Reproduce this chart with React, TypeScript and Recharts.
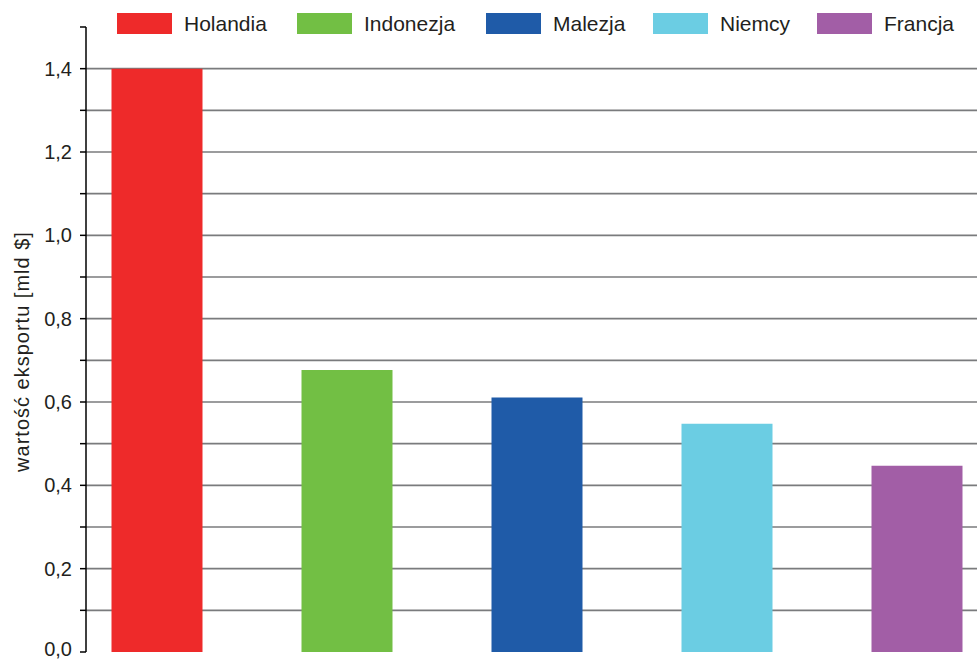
import React from 'react';
import { BarChart, Bar, XAxis, YAxis, CartesianGrid, Cell } from 'recharts';

const countries = ['Holandia', 'Indonezja', 'Malezja', 'Niemcy', 'Francja'];
const exportValues = [1.4, 0.677, 0.611, 0.548, 0.447];
const barColors = ['#ee2a2a', '#72bf44', '#1f5ba8', '#6bcde3', '#a25ea6'];
const yTicks = [0, 0.1, 0.2, 0.3, 0.4, 0.5, 0.6, 0.7, 0.8, 0.9, 1.0, 1.1, 1.2, 1.3, 1.4, 1.5];
const gridValues = [0.1, 0.2, 0.3, 0.4, 0.5, 0.6, 0.7, 0.8, 0.9, 1.0, 1.1, 1.2, 1.3, 1.4];
const labeledTicks = [0, 0.2, 0.4, 0.6, 0.8, 1.0, 1.2, 1.4];
// left edge of each legend swatch
const legendLeft = [117, 297, 486, 653, 817];

const data = countries.map((name, i) => ({ name, value: exportValues[i] }));

const FONT = '"Liberation Sans", Arial, sans-serif';

const formatTick = (v: number) =>
  labeledTicks.some(t => Math.abs(t - v) < 1e-6) ? v.toFixed(1).replace('.', ',') : '';

const YTick = (props: any) => {
  const { x, y, payload } = props;
  const txt = formatTick(payload.value);
  if (!txt) return null;
  // keep the bottom label inside the picture
  const shift = payload.value === 0 ? -3 : 0;
  return (
    <text
      x={x}
      y={y + shift}
      textAnchor="end"
      dominantBaseline="central"
      fontSize={20}
      fill="#231f20"
      fontFamily={FONT}
    >
      {txt}
    </text>
  );
};

const YLabel = (props: any) => {
  const vb = props.viewBox || {};
  const cx = 22;
  const cy = vb.y + vb.height / 2 + 12;
  return (
    <text
      x={cx}
      y={cy}
      transform={`rotate(-90, ${cx}, ${cy})`}
      textAnchor="middle"
      dominantBaseline="central"
      fontSize={20}
      letterSpacing={1}
      fill="#231f20"
      fontFamily={FONT}
    >
      wartość eksportu [mld $]
    </text>
  );
};

const LegendRow = () => (
  <div style={{ position: 'absolute', top: 13, left: 0, fontFamily: FONT, fontSize: 21, color: '#231f20', zIndex: 2 }}>
    {countries.map((c, i) => (
      <div
        key={c}
        style={{ position: 'absolute', left: legendLeft[i], top: 0, display: 'flex', alignItems: 'center', whiteSpace: 'nowrap' }}
      >
        <div style={{ width: 55, height: 21, background: barColors[i], marginRight: 12 }} />
        <span style={{ lineHeight: '21px' }}>{c}</span>
      </div>
    ))}
  </div>
);

export default function App() {
  return (
    <div style={{ position: 'relative', width: 977, height: 660, background: '#fff', overflow: 'hidden' }}>
      <style>{`body{margin:0;overflow:hidden;}`}</style>
      <LegendRow />
      <BarChart
        width={977}
        height={660}
        data={data}
        margin={{ top: 27, right: 0, bottom: 8, left: 0 }}
      >
        <CartesianGrid
          horizontal={true}
          vertical={false}
          horizontalValues={gridValues}
          stroke="#7a7b7d"
          strokeWidth={1.6}
        />
        <XAxis
          dataKey="name"
          type="category"
          height={0}
          tick={false}
          tickLine={false}
          padding={{ left: -24.5, right: -34.5 }}
          axisLine={{ stroke: '#000', strokeWidth: 2 }}
        />
        <YAxis
          type="number"
          domain={[0, 1.5]}
          ticks={yTicks}
          interval={0}
          width={86}
          tickSize={6}
          tickMargin={8}
          tick={<YTick />}
          tickLine={{ stroke: '#000', strokeWidth: 1.5 }}
          axisLine={{ stroke: '#000', strokeWidth: 1.5 }}
          label={<YLabel />}
        />
        <Bar dataKey="value" barSize={91} isAnimationActive={false}>
          {data.map((d, i) => (
            <Cell key={d.name} fill={barColors[i]} />
          ))}
        </Bar>
      </BarChart>
    </div>
  );
}
